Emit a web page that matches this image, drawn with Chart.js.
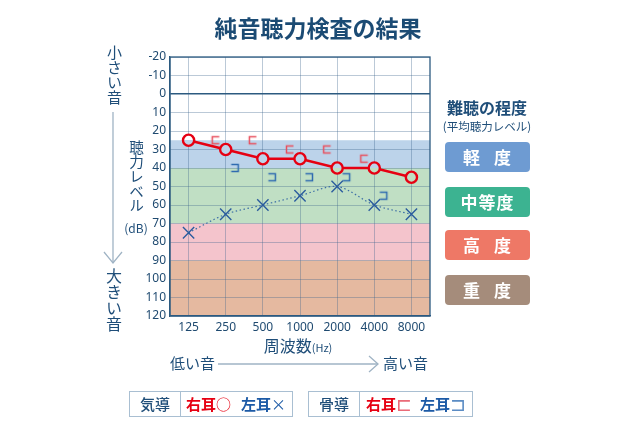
<!DOCTYPE html>
<html lang="ja">
<head>
<meta charset="utf-8">
<title>純音聴力検査の結果</title>
<script src="https://cdn.jsdelivr.net/npm/chart.js@4.4.1/dist/chart.umd.min.js"></script>
<style>
  html, body { margin: 0; padding: 0; background: #fff; }
  #wrap { position: relative; width: 640px; height: 438px; overflow: hidden;
          font-family: "Noto Sans CJK JP", "Noto Sans", sans-serif; color: #1f4e79; }
  #wrap canvas { position: absolute; left: 0; top: 0; }
  .txt { position: absolute; white-space: nowrap; }
  .vert { writing-mode: vertical-rl; text-orientation: upright; }
  .title { left: 0; width: 636px; top: 11px; text-align: center; font-size: 23px; font-weight: 700; line-height: 32px; color: #1b4b74; }
  .lvbox { position: absolute; left: 445px; width: 85px; height: 30px; border-radius: 4px;
           color: #fff; font-size: 17px; font-weight: 700; line-height: 30px; text-align: center; letter-spacing: 1px; word-spacing: 8px; }
  .key { position: absolute; top: 391px; height: 24px; border: 1px solid #a9bfd2; font-size: 15px; line-height: 24px; }
  .key span.head { position: absolute; top: 0; text-align: center; font-weight: 500; color: #1f4e79; }
  .key span.div { position: absolute; top: 0; width: 1px; height: 24px; background: #a9bfd2; }
  .r { color: #e60012; font-weight: 700; }
  .l { color: #1c5aa6; font-weight: 700; }
  .sym { display: inline-block; font-family: "DejaVu Sans", sans-serif; font-size: 19px; line-height: 24px; vertical-align: top; }
  svg { position: absolute; left: 0; top: 0; }
</style>
</head>
<body>
<div id="wrap">
  <canvas id="audiogram" width="640" height="438"></canvas>
  <svg width="640" height="438">
    <line x1="113" y1="112" x2="113" y2="263" stroke="#9fb3c4" stroke-width="1.3"/>
    <polyline points="104,252 113,263 122,252" fill="none" stroke="#9fb3c4" stroke-width="1.3"/>
    <line x1="218" y1="364" x2="378" y2="364" stroke="#9fb3c4" stroke-width="1.3"/>
    <polyline points="369,356 378,364 369,372" fill="none" stroke="#9fb3c4" stroke-width="1.3"/>
  </svg>
  <div class="txt title">純音聴力検査の結果</div>

  <div class="txt vert" style="left:106px; top:45px; font-size:15px; line-height:16px;">小さい音</div>
  <div class="txt vert" style="left:106px; top:268px; font-size:16px; line-height:16px;">大きい音</div>
  <div class="txt vert" style="left:128px; top:140px; font-size:14.6px; line-height:16px;">聴力レベル</div>
  <div class="txt" style="left:116px; width:40px; top:220px; text-align:center; font-size:12px; line-height:16px;">(dB)</div>

  <div class="txt" style="left:437px; width:100px; top:96px; text-align:center; font-size:16px; font-weight:700; line-height:22px;">難聴の程度</div>
  <div class="txt" style="left:437px; width:100px; top:118px; text-align:center; font-size:11.5px; line-height:16px;">(平均聴力レベル)</div>
  <div id="levels"></div>

  <div class="txt" style="left:240px; width:116px; top:334px; text-align:center; font-size:16px; line-height:22px;">周波数<span style="font-size:11px;">(Hz)</span></div>
  <div class="txt" style="left:170px; top:353px; font-size:15px; line-height:20px;">低い音</div>
  <div class="txt" style="left:383px; top:353px; font-size:15px; line-height:20px;">高い音</div>

  <div class="key" style="left:129px; width:162px;">
    <span class="head" style="left:0; width:50px;">気導</span>
    <span class="div" style="left:50px;"></span>
    <span style="position:absolute; left:56px;"><span class="r">右耳</span><span style="color:#e60012;">○</span></span>
    <span style="position:absolute; left:111px;"><span class="l">左耳</span><span style="color:#1c5aa6;">×</span></span>
  </div>
  <div class="key" style="left:308px; width:163px;">
    <span class="head" style="left:0; width:50px;">骨導</span>
    <span class="div" style="left:50px;"></span>
    <span style="position:absolute; left:57px;"><span class="r">右耳</span><span class="sym" style="color:#ea6b78;">⊏</span></span>
    <span style="position:absolute; left:111px;"><span class="l">左耳</span><span class="sym" style="color:#5b8cc4;">⊐</span></span>
  </div>
</div>

<script>
'use strict';

// frequencies (Hz) and hearing levels (dB)
var freqLabels = ['125', '250', '500', '1000', '2000', '4000', '8000'];
var rightAir = [25, 30, 35, 35, 40, 40, 45];
var leftAir = [75, 65, 60, 55, 50, 60, 65];
var rightBone = [null, 25, 25, 30, 30, 35, null];
var leftBone = [null, 40, 45, 45, 45, 55, null];
var levelMin = -20;
var levelMax = 120;
var levelStep = 10;

// degree of hearing loss
var bandNames = ['軽 度', '中等度', '高 度', '重 度'];
var bandLow = [25, 40, 70, 90];
var bandHigh = [40, 70, 90, 120];

var bandColors = ['#bcd3ea', '#c0dfc4', '#f4c4cc', '#e5b9a0'];
var boxColors = ['#6e9bd2', '#3cb391', '#ee7866', '#a58c7b'];
var boxTops = [142, 187, 230, 275];

var levelsEl = document.getElementById('levels');
bandNames.forEach(function(name, i) {
    var d = document.createElement('div');
    d.className = 'lvbox';
    d.style.top = boxTops[i] + 'px';
    d.style.background = boxColors[i];
    d.textContent = name;
    levelsEl.appendChild(d);
});

function makeBracket(color, side) {
    var c = document.createElement('canvas');
    c.width = 40;
    c.height = 14;
    var g = c.getContext('2d');
    var cx = side < 0 ? 10 : 29;
    var l = cx - 3.5, r = cx + 3.5, t = 3.5, b = 10.5;
    g.strokeStyle = color;
    g.lineWidth = 1.5;
    g.beginPath();
    if (side < 0) {
        g.moveTo(r, t); g.lineTo(l, t); g.lineTo(l, b); g.lineTo(r, b);
    } else {
        g.moveTo(l, t); g.lineTo(r, t); g.lineTo(r, b); g.lineTo(l, b);
    }
    g.stroke();
    return c;
}

// fill of the circles: same colour as the band behind them
function bandGradient(chart) {
    var y = chart.scales.y;
    if (!y || !chart.chartArea) return '#fff';
    var top = y.getPixelForValue(levelMin);
    var bottom = y.getPixelForValue(levelMax);
    if (!isFinite(top) || !isFinite(bottom) || top === bottom) return '#fff';
    var g = chart.ctx.createLinearGradient(0, top, 0, bottom);
    var span = levelMax - levelMin;
    g.addColorStop(0, '#fff');
    bandLow.forEach(function(lo, i) {
        var a = (lo - levelMin) / span;
        var b = (bandHigh[i] - levelMin) / span;
        g.addColorStop(a, i === 0 ? '#fff' : bandColors[i - 1]);
        g.addColorStop(a, bandColors[i]);
        g.addColorStop(b, bandColors[i]);
    });
    return g;
}

var bandsPlugin = {
    id: 'bands',
    beforeDraw: function(chart) {
        var ctx = chart.ctx, a = chart.chartArea, y = chart.scales.y;
        ctx.save();
        bandLow.forEach(function(lo, i) {
            var y1 = y.getPixelForValue(lo);
            var y2 = y.getPixelForValue(bandHigh[i]);
            ctx.fillStyle = bandColors[i];
            ctx.fillRect(a.left, y1, a.right - a.left, y2 - y1);
        });
        ctx.restore();
    },
    afterDraw: function(chart) {
        var ctx = chart.ctx, a = chart.chartArea;
        ctx.save();
        ctx.strokeStyle = '#2c5a80';
        ctx.lineWidth = 1.3;
        ctx.strokeRect(a.left, a.top, a.right - a.left, a.bottom - a.top);
        ctx.restore();
    }
};

var tickFont = { family: "'Noto Sans', sans-serif", size: 12 };

new Chart(document.getElementById('audiogram'), {
    type: 'line',
    data: {
        labels: freqLabels,
        datasets: [{
            label: '右耳 気導',
            data: rightAir,
            borderColor: '#e60012',
            borderWidth: 2.5,
            pointStyle: 'circle',
            pointRadius: 5.6,
            pointBorderWidth: 2.4,
            pointBorderColor: '#e60012',
            pointBackgroundColor: function(ctx) { return bandGradient(ctx.chart); },
            tension: 0,
            order: 1
        }, {
            label: '左耳 気導',
            data: leftAir,
            borderColor: '#3c6ea6',
            borderWidth: 1.2,
            borderDash: [1.5, 2.5],
            pointStyle: 'crossRot',
            pointRadius: 8,
            pointBorderWidth: 1.4,
            pointBorderColor: '#2b5c9e',
            tension: 0.3,
            order: 2
        }, {
            label: '右耳 骨導',
            data: rightBone,
            showLine: false,
            pointStyle: makeBracket('#e8505e', -1),
            pointRadius: 4,
            order: 3
        }, {
            label: '左耳 骨導',
            data: leftBone,
            showLine: false,
            pointStyle: makeBracket('#2f6bb0', 1),
            pointRadius: 4,
            order: 4
        }]
    },
    options: {
        responsive: false,
        animation: false,
        devicePixelRatio: 1,
        layout: { padding: { left: 120, right: 210, top: 57, bottom: 100 } },
        plugins: {
            legend: { display: false },
            tooltip: { enabled: false }
        },
        scales: {
            x: {
                offset: true,
                grid: {
                    offset: false,
                    drawTicks: false,
                    color: 'rgba(60,100,140,0.35)',
                    lineWidth: 1
                },
                border: { color: '#2c5a80', width: 1.3 },
                ticks: { color: '#1f4a70', font: tickFont, padding: 4, maxRotation: 0 },
                afterFit: function(scale) { scale.height = 22; }
            },
            y: {
                reverse: true,
                min: levelMin,
                max: levelMax,
                grid: {
                    drawTicks: false,
                    color: function(ctx) {
                        return ctx.tick && ctx.tick.value === 0 ? '#2c5a80' : 'rgba(60,100,140,0.35)';
                    },
                    lineWidth: function(ctx) {
                        return ctx.tick && ctx.tick.value === 0 ? 1.4 : 1;
                    }
                },
                border: { color: '#2c5a80', width: 1.3 },
                ticks: { stepSize: levelStep, color: '#1f4a70', font: tickFont, padding: 4 },
                afterFit: function(scale) { scale.width = 50; }
            }
        }
    },
    plugins: [bandsPlugin]
});
</script>
</body>
</html>
